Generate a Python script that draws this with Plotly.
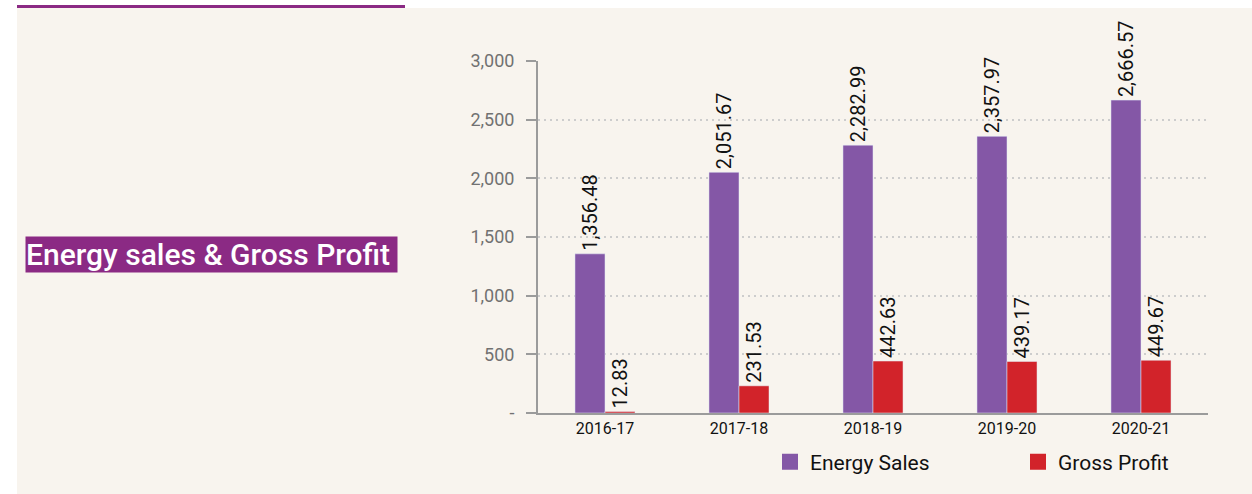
import plotly.graph_objects as go

years = ["2016-17", "2017-18", "2018-19", "2019-20", "2020-21"]
energy_sales = [1356.48, 2051.67, 2282.99, 2357.97, 2666.57]
gross_profit = [12.83, 231.53, 442.63, 439.17, 449.67]
tick_vals = [0, 500, 1000, 1500, 2000, 2500, 3000]
tick_text = ["-", "500", "1,000", "1,500", "2,000", "2,500", "3,000"]

PURPLE = "#8457A6"
RED = "#D2232A"
TITLE_BG = "#8B2A84"
PANEL = "#F8F4EE"
FONT = "Roboto"

# plot area in pixels (for paper-coordinate decorations)
W, H = 1252, 494
L, R, T, B = 538, 44, 61, 81
pw, ph = W - L - R, H - T - B


def px(x):
    return (x - L) / pw


def py(y):
    return (H - B - y) / ph


fig = go.Figure()
for name, vals, col in [("Energy Sales", energy_sales, PURPLE),
                        ("Gross Profit", gross_profit, RED)]:
    fig.add_trace(go.Bar(
        x=years, y=vals, name=name, marker_color=col,
        text=vals, texttemplate="%{y:,.2f}", textposition="outside",
        textangle=-90, constraintext="none",
        textfont=dict(family=FONT, size=20, color="#111111"),
        cliponaxis=False, showlegend=False,
    ))
# legend entries
for name, col in [("Energy Sales", PURPLE), ("Gross Profit", RED)]:
    fig.add_trace(go.Scatter(
        x=[None], y=[None], mode="markers", name=name,
        marker=dict(symbol="square", size=20, color=col),
    ))

fig.update_layout(
    width=W, height=H,
    margin=dict(l=L, r=R, t=T, b=B, pad=0, autoexpand=False),
    paper_bgcolor="white", plot_bgcolor="rgba(0,0,0,0)",
    barmode="group", bargap=0.552, bargroupgap=0,
    font=dict(family=FONT, color="#111111"),
    legend=dict(
        orientation="h", x=px(770), xanchor="left", y=py(462), yanchor="middle",
        font=dict(family=FONT, size=21, color="#111111"),
        entrywidth=203, entrywidthmode="pixels", itemsizing="trace",
        bgcolor="rgba(0,0,0,0)",
    ),
    xaxis=dict(
        showline=True, linecolor="#9b9b9b", linewidth=2, ticks="",
        tickfont=dict(family=FONT, size=16, color="#111111"),
        showgrid=False, fixedrange=True,
    ),
    yaxis=dict(
        range=[0, 3000], tickvals=tick_vals, ticktext=tick_text,
        showline=True, linecolor="#9b9b9b", linewidth=2,
        ticks="outside", ticklen=10, tickwidth=2, tickcolor="#9b9b9b",
        ticklabelstandoff=8,
        tickfont=dict(family=FONT, size=18, color="#717171"),
        showgrid=True, gridcolor="#cdcdcd", gridwidth=2, griddash="2px,4px",
        zeroline=False, fixedrange=True,
    ),
    shapes=[
        dict(type="rect", xref="paper", yref="paper", layer="below",
             x0=px(17), x1=px(1260), y0=py(500), y1=py(8),
             fillcolor=PANEL, line=dict(width=0)),
        dict(type="line", xref="paper", yref="paper",
             x0=px(17), x1=px(405), y0=py(6.5), y1=py(6.5),
             line=dict(color=TITLE_BG, width=3)),
    ],
    annotations=[
        dict(text="Energy sales & Gross Profit", xref="paper", yref="paper",
             x=px(25), y=py(254.5), xanchor="left", yanchor="middle",
             showarrow=False, bgcolor=TITLE_BG, width=371, height=35,
             align="left", borderpad=0,
             font=dict(family=FONT, size=30, color="white", weight=500)),
    ],
)

fig.write_html("out.html", config={"displayModeBar": False},
               post_script="document.body.style.margin='0';")
